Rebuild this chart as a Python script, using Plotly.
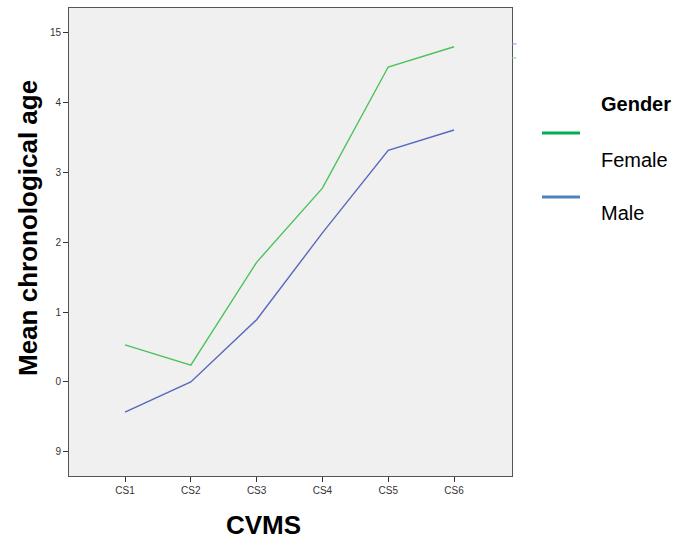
import plotly.graph_objects as go

categories = ["CS1", "CS2", "CS3", "CS4", "CS5", "CS6"]
female = [10.53, 10.24, 11.71, 12.77, 14.50, 14.79]
male = [9.57, 10.00, 10.89, 12.13, 13.31, 13.60]
ytick_vals = [15, 14, 13, 12, 11, 10, 9]
ytick_text = ["15", "4", "3", "2", "1", "0", "9"]

FONT = "Liberation Sans, Arial, sans-serif"

fig = go.Figure()
fig.add_trace(go.Scatter(x=categories, y=female, mode="lines", name="Female",
                         line=dict(color="#4cc25a", width=1.4), showlegend=False))
fig.add_trace(go.Scatter(x=categories, y=male, mode="lines", name="Male",
                         line=dict(color="#5868bc", width=1.4), showlegend=False))

axis_common = dict(showline=True, linecolor="#555555", linewidth=1, mirror=True,
                   showgrid=False, zeroline=False, ticks="outside", ticklen=5,
                   tickcolor="#333333", tickfont=dict(family=FONT, size=10, color="#333333"))

fig.update_xaxes(range=[-0.851, 5.881], type="category", **axis_common)
fig.update_yaxes(range=[8.657, 15.343], tickvals=ytick_vals, ticktext=ytick_text,
                 **axis_common)

# small marks at the right edge
fig.add_shape(type="line", xref="paper", yref="y", x0=1.0, x1=1.01, y0=14.83, y1=14.83,
              line=dict(color="#8090d0", width=1))
fig.add_shape(type="line", xref="paper", yref="y", x0=1.0, x1=1.01, y0=14.63, y1=14.63,
              line=dict(color="#80d080", width=1))

def px(pix):
    return (pix - 69) / 443

def py(pix):
    return (476 - pix) / 468

# axis titles
fig.add_annotation(text="<b>Mean chronological age</b>", xref="paper", yref="paper",
                   x=px(28), y=py(228), textangle=-90, showarrow=False, xanchor="center",
                   yanchor="middle", font=dict(family=FONT, size=26, color="black"))
fig.add_annotation(text="<b>CVMS</b>", xref="paper", yref="paper",
                   x=px(263), y=py(525), showarrow=False,
                   xanchor="center", yanchor="middle",
                   font=dict(family=FONT, size=26, color="black"))

# custom legend
lx0 = px(542)
lx1 = px(580)
tx = px(599)

fig.add_annotation(text="<b>Gender</b>", xref="paper", yref="paper", x=tx, y=py(104),
                   xanchor="left", yanchor="middle", showarrow=False,
                   font=dict(family=FONT, size=20, color="black"))
fig.add_shape(type="line", xref="paper", yref="paper", x0=lx0, x1=lx1, y0=py(133), y1=py(133),
              line=dict(color="#00b050", width=3))
fig.add_annotation(text="Female", xref="paper", yref="paper", x=tx, y=py(160),
                   xanchor="left", yanchor="middle", showarrow=False,
                   font=dict(family=FONT, size=20, color="black"))
fig.add_shape(type="line", xref="paper", yref="paper", x0=lx0, x1=lx1, y0=py(197), y1=py(197),
              line=dict(color="#4f81bd", width=3))
fig.add_annotation(text="Male", xref="paper", yref="paper", x=tx, y=py(213),
                   xanchor="left", yanchor="middle", showarrow=False,
                   font=dict(family=FONT, size=20, color="black"))

fig.update_layout(width=676, height=539, margin=dict(l=69, r=164, t=8, b=63),
                  plot_bgcolor="#f0f0f0", paper_bgcolor="white")

fig.write_html("out.html")
